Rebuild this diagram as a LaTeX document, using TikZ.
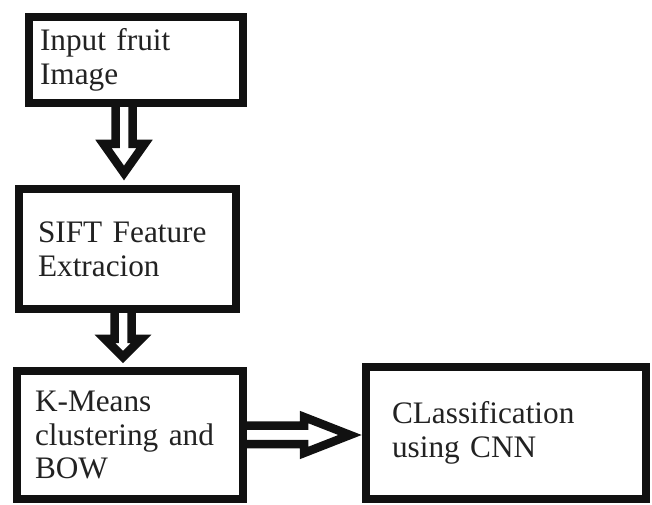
\documentclass[tikz,border=0pt]{standalone}
\usepackage{fontspec}
\setmainfont{Liberation Serif}
\usepackage{tikz}
\usetikzlibrary{positioning, calc}
\usepackage{xcolor}
\definecolor{boxline}{HTML}{111111}
\definecolor{boxtext}{HTML}{222222}
\tikzset{
  stagebox/.style={rectangle, draw=boxline, line width=1.6mm, fill=white,
                   align=left, inner sep=0pt, text=boxtext,
                   font=\fontsize{17.8}{19.2}\selectfont},
  head len/.store in=\hdlen, head half/.store in=\hdhalf,
  shaft half/.store in=\shhalf,
  head len=0.58cm, head half=0.41cm, shaft half=0.17cm,
  hollowarrow/.style={draw=boxline, line width=1.7mm, line join=miter,
    to path={let \p1=(\tikztostart), \p2=(\tikztotarget),
                 \n1={atan2(\y2-\y1,\x2-\x1)}, \n2={veclen(\x2-\x1,\y2-\y1)} in
      ($(\p1)+(\n1+90:\shhalf)$) -- ++(\n1:{\n2-\hdlen})
      -- ++(\n1+90:{\hdhalf-\shhalf}) -- (\p2)
      -- ($(\p2)+(\n1+180:\hdlen)+(\n1-90:\hdhalf)$)
      -- ++(\n1+90:{\hdhalf-\shhalf}) -- ($(\p1)+(\n1-90:\shhalf)$)}},
}

\begin{document}
\begin{tikzpicture}[x=1cm, y=1cm]
  \useasboundingbox (0,0) rectangle (13.04,10.1);

  % Pipeline stages down the left column
  \node[stagebox, minimum width=4.28cm, minimum height=1.72cm, text width=3.84cm]
       (input) at (2.72, 8.90) {Input fruit\\Image};
  \node[stagebox, minimum width=4.34cm, minimum height=2.40cm, text width=3.58cm]
       (sift) at (2.55, 5.12) {SIFT Feature\\Extracion};
  \node[stagebox, minimum width=4.52cm, minimum height=2.56cm, text width=3.80cm]
       (kmeans) at (2.60, 1.40) {K-Means\\clustering and\\BOW};

  % Classifier to the right of the last stage
  \node[stagebox, minimum width=5.60cm, minimum height=2.64cm, text width=4.56cm]
       (cnn) at (10.12, 1.44) {CLassification\\using CNN};

  % Hollow block arrows between stages
  \draw[hollowarrow] ([xshift=-0.24cm]input.south)
       to ([xshift=-0.24cm, yshift=0.24cm]input.south |- sift.north);
  \draw[hollowarrow, head len=0.36cm, head half=0.36cm]
       ([xshift=-0.09cm]sift.south)
       to ([xshift=-0.09cm, yshift=0.2cm]sift.south |- kmeans.north);
  \draw[hollowarrow, head len=0.92cm, head half=0.36cm, shaft half=0.185cm]
       (kmeans.east) to ([xshift=-0.24cm]kmeans.east -| cnn.west);

\end{tikzpicture}
\end{document}
